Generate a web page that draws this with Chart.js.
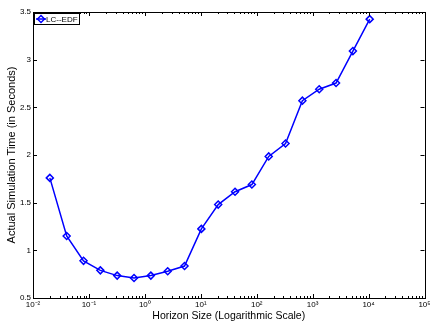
<!DOCTYPE html>
<html>
<head>
<meta charset="utf-8">
<script src="https://cdn.jsdelivr.net/npm/chart.js@4/dist/chart.umd.min.js"></script>
<style>
  html, body { margin: 0; padding: 0; background: #fff; }
  #wrap { width: 430px; height: 322px; }
</style>
</head>
<body>
<div id="wrap"><canvas id="chart" width="430" height="322"></canvas></div>
<script>
// horizon sizes (seconds) and measured simulation times
const horizons = [0.02, 0.04, 0.08, 0.16, 0.32, 0.64, 1.28, 2.56, 5.12, 10.24,
  20.48, 40.96, 81.92, 163.84, 327.68, 655.36, 1310.72, 2621.44, 5242.88, 10485.76];
const simTimes = [1.76, 1.15, 0.89, 0.79, 0.735, 0.71, 0.735, 0.78, 0.835, 1.225,
  1.48, 1.615, 1.69, 1.985, 2.12, 2.57, 2.69, 2.755, 3.09, 3.425];
const xTicks = [1e-2, 1e-1, 1e0, 1e1, 1e2, 1e3, 1e4, 1e5];
const xTickLabels = ["10⁻²", "10⁻¹", "10⁰", "10¹", "10²", "10³", "10⁴", "10⁵"];
const yTicks = [0.5, 1, 1.5, 2, 2.5, 3, 3.5];
const seriesName = "LC--EDF";

const blue = "#0000ff";
const font = "'Liberation Sans', Arial, sans-serif";

Chart.defaults.font.family = font;
Chart.defaults.color = "#000";

// matlab-ish box with inward ticks + legend
const boxPlugin = {
  id: "box",
  afterDraw(chart) {
    const ctx = chart.ctx;
    const a = chart.chartArea;
    const xs = chart.scales.x, ys = chart.scales.y;
    ctx.save();
    ctx.strokeStyle = "#000";
    ctx.lineWidth = 1;
    ctx.strokeRect(Math.round(a.left) + 0.5, Math.round(a.top) + 0.5,
      Math.round(a.right - a.left), Math.round(a.bottom - a.top));
    ctx.beginPath();
    // x major + minor ticks
    for (let e = -2; e <= 5; e++) {
      for (let m = 1; m <= 9; m++) {
        const v = m * Math.pow(10, e);
        if (v > 1e5 * 1.0001) break;
        const px = Math.round(xs.getPixelForValue(v)) + 0.5;
        const len = m === 1 ? 4 : 2;
        ctx.moveTo(px, a.bottom); ctx.lineTo(px, a.bottom - len);
        ctx.moveTo(px, a.top); ctx.lineTo(px, a.top + len);
      }
    }
    yTicks.forEach(v => {
      const py = Math.round(ys.getPixelForValue(v)) + 0.5;
      ctx.moveTo(a.left, py); ctx.lineTo(a.left + 4, py);
      ctx.moveTo(a.right, py); ctx.lineTo(a.right - 4, py);
    });
    ctx.stroke();

    // legend
    const lx = a.left + 1, ly = a.top + 1;
    ctx.fillStyle = "#fff";
    ctx.fillRect(lx, ly, 45, 11);
    ctx.strokeRect(lx + 0.5, ly + 0.5, 45, 11);
    ctx.strokeStyle = blue;
    ctx.lineWidth = 1.5;
    ctx.beginPath();
    ctx.moveTo(lx + 2, ly + 6); ctx.lineTo(lx + 12, ly + 6);
    ctx.stroke();
    ctx.beginPath();
    ctx.moveTo(lx + 7, ly + 2.5); ctx.lineTo(lx + 10.5, ly + 6);
    ctx.lineTo(lx + 7, ly + 9.5); ctx.lineTo(lx + 3.5, ly + 6); ctx.closePath();
    ctx.stroke();
    ctx.fillStyle = "#000";
    ctx.font = "8px " + font;
    ctx.textBaseline = "middle";
    ctx.fillText(seriesName, lx + 12, ly + 6.5);
    ctx.restore();
  }
};

new Chart(document.getElementById("chart").getContext("2d"), {
  type: "line",
  data: {
    datasets: [{
      label: seriesName,
      data: horizons.map((h, i) => ({ x: h, y: simTimes[i] })),
      borderColor: blue,
      borderWidth: 1.5,
      pointStyle: "rectRot",
      pointRadius: 3.5,
      pointBorderWidth: 1.5,
      pointBorderColor: blue,
      pointBackgroundColor: "rgba(0,0,0,0)",
      tension: 0,
    }],
  },
  options: {
    responsive: false,
    animation: false,
    layout: { padding: { top: 12, right: 4, left: 0, bottom: 0 } },
    plugins: { legend: { display: false }, tooltip: { enabled: false } },
    scales: {
      x: {
        type: "logarithmic",
        min: 1e-2,
        max: 1e5,
        afterBuildTicks: (s) => { s.ticks = xTicks.map(v => ({ value: v })); },
        afterFit: (s) => { s.height = 24; s.paddingLeft = 0; s.paddingRight = 0; },
        grid: { display: false, drawTicks: false },
        border: { display: false },
        ticks: {
          autoSkip: false,
          maxRotation: 0,
          padding: 2,
          font: { size: 8 },
          callback: (v, i) => xTickLabels[i],
        },
        title: {
          display: true,
          text: "Horizon Size (Logarithmic Scale)",
          font: { size: 10.5 },
          padding: { top: 0, bottom: 0 },
        },
      },
      y: {
        min: 0.5,
        max: 3.5,
        afterBuildTicks: (s) => { s.ticks = yTicks.map(v => ({ value: v })); },
        afterFit: (s) => { s.width = 33; },
        grid: { display: false, drawTicks: false },
        border: { display: false },
        ticks: { font: { size: 8 }, padding: 2, callback: (v) => String(v) },
        title: {
          display: true,
          text: "Actual Simulation Time (in Seconds)",
          font: { size: 11 },
          padding: { top: 5, bottom: 0 },
        },
      },
    },
  },
  plugins: [boxPlugin],
});
</script>
</body>
</html>
